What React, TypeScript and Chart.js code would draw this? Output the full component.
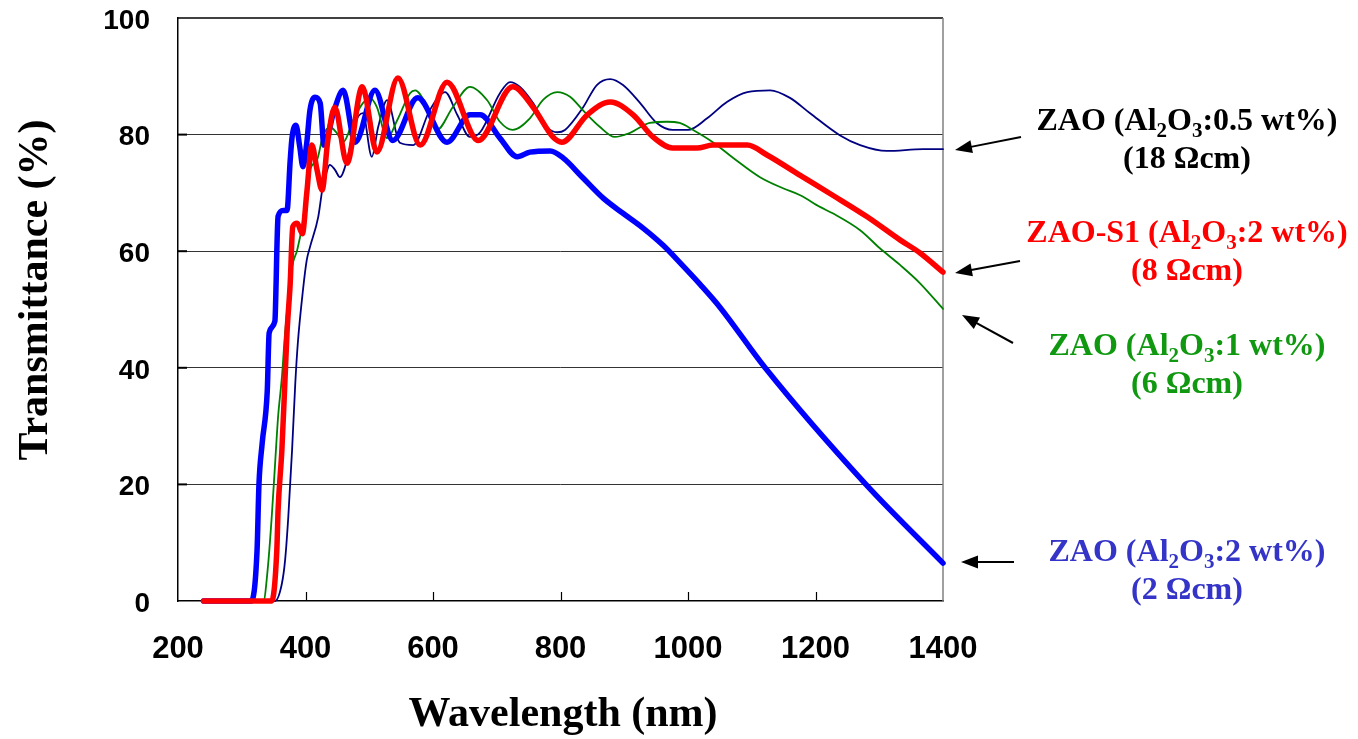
import React, { useEffect, useRef } from "react";
import { Chart, registerables } from "chart.js";
Chart.register(...registerables);

// ---- data (wavelength in nm, transmittance in %) ----
const navyNm = [240, 352, 363, 368, 373, 379, 384, 388, 396, 402, 407, 420, 427, 434, 438, 446, 454, 465, 478, 490, 504, 514, 528, 548, 569, 595, 619, 638, 658, 674, 705, 721, 736, 757, 779, 795, 807, 835, 857, 878, 898, 925, 951, 976, 1000, 1030, 1061, 1093, 1129, 1160, 1191, 1238, 1270, 1312, 1369, 1400];
const navyT = [0, 0, 3, 7, 14.4, 26, 37.4, 44.3, 53.3, 58.5, 60.7, 65.9, 71, 73.9, 74.8, 74, 72.7, 75.6, 82, 83.7, 76.2, 81.3, 85.9, 78.6, 78.2, 84.2, 87.3, 83.4, 79.6, 80.4, 87.1, 89, 88.2, 85.4, 81.3, 80.4, 80.8, 84.6, 88.5, 89.5, 88.5, 85.4, 82, 80.8, 80.8, 82.8, 85.6, 87.3, 87.6, 86.3, 83.7, 79.9, 78.2, 77.2, 77.5, 77.5];

const greenNm = [240, 334, 341, 347, 352, 357, 363, 368, 379, 387, 395, 407, 418, 427, 438, 449, 459, 475, 490, 501, 512, 528, 544, 564, 572, 591, 606, 631, 658, 685, 705, 725, 752, 773, 795, 815, 835, 862, 885, 909, 940, 967, 987, 1008, 1039, 1071, 1113, 1149, 1176, 1207, 1227, 1270, 1301, 1333, 1364, 1400];
const greenT = [0, 0, 5.8, 14.4, 23, 31.6, 38.4, 46, 57.3, 60.2, 64.5, 74, 75.6, 79.6, 81.3, 80.3, 78.7, 82.5, 85.4, 86.3, 84.7, 79.4, 82.5, 87.1, 87.6, 84.7, 80.8, 84.7, 88.2, 85.9, 82.2, 80.8, 82.8, 86, 87.3, 86.5, 84.2, 81.3, 79.6, 80.3, 82, 82.2, 82, 80.8, 78.7, 76, 72.7, 70.8, 69.6, 67.6, 66.5, 63.6, 60.5, 57.6, 54.5, 50.1];

const redNm = [240, 347, 355, 357, 363, 368, 371, 376, 380, 387, 395, 402, 410, 418, 426, 435, 446, 465, 489, 512, 545, 580, 622, 671, 725, 757, 788, 802, 842, 878, 914, 945, 976, 1014, 1039, 1093, 1124, 1176, 1227, 1281, 1333, 1364, 1400];
const redT = [0, 0, 8.7, 15.6, 26, 38.4, 46, 54.5, 64.2, 64.8, 63, 70, 78.2, 74, 70.5, 79, 84.7, 75.1, 88.2, 77, 89.7, 78.2, 89, 79, 88.2, 84.7, 79.6, 78.7, 83.4, 85.6, 83.4, 79.6, 77.7, 77.7, 78.2, 78.2, 76.5, 73, 69.6, 65.9, 61.9, 59.7, 56.4];

const blueNm = [240, 315, 324, 327, 332, 340, 343, 352, 354, 355, 357, 365, 371, 376, 379, 385, 391, 396, 402, 407, 415, 423, 429, 445, 459, 478, 509, 537, 576, 622, 658, 674, 705, 732, 752, 784, 804, 835, 867, 898, 929, 961, 991, 1019, 1050, 1121, 1279, 1400];
const blueT = [0, 0, 8.7, 20, 27, 36, 46, 48, 55, 60, 66, 67, 67, 75.6, 79.6, 81.6, 77.9, 74.5, 78.6, 84.2, 86.4, 85.4, 78.2, 84.2, 87.6, 78.7, 87.6, 79, 86.3, 78.7, 83.4, 83.4, 79.4, 76.2, 77, 77.2, 76, 72.6, 69.1, 66.5, 64, 61, 57.6, 54.3, 50.4, 40, 20, 6.5];

const xTicks = [200, 400, 600, 800, 1000, 1200, 1400];
const yTicks = [0, 20, 40, 60, 80, 100];

const xTitle = "Wavelength (nm)";
const yTitle = "Transmittance (%)";

// annotation text parts: [text, isSubscript]
type Part = [string, boolean];
const labelBlack1: Part[] = [["ZAO (Al", false], ["2", true], ["O", false], ["3", true], [":0.5 wt%)", false]];
const labelBlack2: Part[] = [["(18 \u03A9cm)", false]];
const labelRed1: Part[] = [["ZAO-S1 (Al", false], ["2", true], ["O", false], ["3", true], [":2 wt%)", false]];
const labelRed2: Part[] = [["(8 \u03A9cm)", false]];
const labelGreen1: Part[] = [["ZAO (Al", false], ["2", true], ["O", false], ["3", true], [":1 wt%)", false]];
const labelGreen2: Part[] = [["(6 \u03A9cm)", false]];
const labelBlue1: Part[] = [["ZAO (Al", false], ["2", true], ["O", false], ["3", true], [":2 wt%)", false]];
const labelBlue2: Part[] = [["(2 \u03A9cm)", false]];

const toXY = (xs: number[], ys: number[]) => xs.map((x, i) => ({ x, y: ys[i] }));

const SERIF = '"Liberation Serif", "Times New Roman", serif';

function drawRich(ctx: CanvasRenderingContext2D, parts: Part[], cx: number, baseline: number, color: string) {
  const main = `bold 32px ${SERIF}`;
  const sub = `bold 21px ${SERIF}`;
  let w = 0;
  for (const [t, s] of parts) {
    ctx.font = s ? sub : main;
    w += ctx.measureText(t).width;
  }
  let x = cx - w / 2;
  ctx.fillStyle = color;
  ctx.textAlign = "left";
  ctx.textBaseline = "alphabetic";
  for (const [t, s] of parts) {
    ctx.font = s ? sub : main;
    ctx.fillText(t, x, baseline + (s ? 7 : 0));
    x += ctx.measureText(t).width;
  }
}

function drawArrow(ctx: CanvasRenderingContext2D, x1: number, y1: number, x2: number, y2: number) {
  const ang = Math.atan2(y2 - y1, x2 - x1);
  const L = 17;
  const W = 6.5;
  const c = Math.cos(ang);
  const s = Math.sin(ang);
  ctx.strokeStyle = "#000";
  ctx.fillStyle = "#000";
  ctx.lineWidth = 2;
  ctx.beginPath();
  ctx.moveTo(x1, y1);
  ctx.lineTo(x2 - L * 0.8 * c, y2 - L * 0.8 * s);
  ctx.stroke();
  ctx.beginPath();
  ctx.moveTo(x2, y2);
  ctx.lineTo(x2 - L * c + W * s, y2 - L * s - W * c);
  ctx.lineTo(x2 - L * c - W * s, y2 - L * s + W * c);
  ctx.closePath();
  ctx.fill();
}

const overlay = {
  id: "overlay",
  beforeDatasetsDraw(chart: any) {
    const { ctx, chartArea: a, scales } = chart;
    ctx.save();
    ctx.lineWidth = 1.5;
    ctx.strokeStyle = "#000";
    ctx.beginPath();
    ctx.moveTo(a.left, a.top);
    ctx.lineTo(a.right, a.top);
    ctx.stroke();
    ctx.strokeStyle = "#808080";
    ctx.beginPath();
    ctx.moveTo(a.right, a.top);
    ctx.lineTo(a.right, a.bottom);
    ctx.stroke();
    ctx.strokeStyle = "#000";
    ctx.lineWidth = 1.2;
    for (const v of xTicks.slice(1, -1)) {
      const px = Math.round(scales.x.getPixelForValue(v)) + 0.5;
      ctx.beginPath();
      ctx.moveTo(px, a.bottom);
      ctx.lineTo(px, a.bottom - 9);
      ctx.stroke();
    }
    ctx.lineWidth = 2;
    for (const v of yTicks.slice(1, -1)) {
      const py = scales.y.getPixelForValue(v);
      ctx.beginPath();
      ctx.moveTo(a.left, py);
      ctx.lineTo(a.left + 9, py);
      ctx.stroke();
    }
    ctx.restore();
  },
  afterDraw(chart: any) {
    const { ctx } = chart;
    ctx.save();
    ctx.fillStyle = "#000";
    ctx.font = `bold 42px ${SERIF}`;
    ctx.textAlign = "center";
    ctx.textBaseline = "middle";
    ctx.fillText(xTitle, 563, 715);
    ctx.save();
    ctx.translate(36, 290);
    ctx.rotate(-Math.PI / 2);
    ctx.fillText(yTitle, 0, 0);
    ctx.restore();

    const cx = 1187;
    drawRich(ctx, labelBlack1, cx, 130, "#000000");
    drawRich(ctx, labelBlack2, cx, 168, "#000000");
    drawRich(ctx, labelRed1, cx, 242, "#ff0000");
    drawRich(ctx, labelRed2, cx, 280, "#ff0000");
    drawRich(ctx, labelGreen1, cx, 355, "#109910");
    drawRich(ctx, labelGreen2, cx, 393, "#109910");
    drawRich(ctx, labelBlue1, cx, 561, "#3434c8");
    drawRich(ctx, labelBlue2, cx, 599, "#3434c8");

    drawArrow(ctx, 1021, 137, 955, 150);
    drawArrow(ctx, 1020, 261, 955, 273);
    drawArrow(ctx, 1013, 343, 962, 315);
    drawArrow(ctx, 1014, 562, 961, 562);
    ctx.restore();
  },
};

export default function App() {
  const ref = useRef<HTMLCanvasElement>(null);
  useEffect(() => {
    document.body.style.margin = "0";
    const canvas = ref.current!;
    const common = { pointRadius: 0, fill: false, cubicInterpolationMode: "monotone" as const, borderJoinStyle: "round" as const, borderCapStyle: "round" as const, clip: 8 };
    const chart = new Chart(canvas, {
      type: "line",
      data: {
        datasets: [
          { ...common, label: "ZAO-S1 2 wt%", data: toXY(redNm, redT), borderColor: "#ff0000", borderWidth: 5.5, order: 1 },
          { ...common, label: "ZAO 2 wt%", data: toXY(blueNm, blueT), borderColor: "#0000ff", borderWidth: 5.5, order: 2 },
          { ...common, label: "ZAO 1 wt%", data: toXY(greenNm, greenT), borderColor: "#008000", borderWidth: 1.8, order: 3 },
          { ...common, label: "ZAO 0.5 wt%", data: toXY(navyNm, navyT), borderColor: "#000080", borderWidth: 1.8, order: 4 },
        ],
      },
      options: {
        animation: false,
        responsive: false,
        devicePixelRatio: 1,
        layout: { padding: { left: 0, top: 18, right: 415, bottom: 0 } },
        plugins: { legend: { display: false }, tooltip: { enabled: false } },
        scales: {
          x: {
            type: "linear",
            min: 200,
            max: 1400,
            afterFit: (s: any) => { s.height = 138; s.paddingLeft = 0; s.paddingRight = 0; s.paddingTop = 0; s.paddingBottom = 0; },
            afterBuildTicks: (s: any) => { s.ticks = xTicks.map((v) => ({ value: v })); },
            grid: { display: false, drawTicks: false },
            border: { display: true, color: "#000", width: 1.5 },
            ticks: {
              autoSkip: false,
              maxRotation: 0,
              padding: 30,
              color: "#000",
              callback: (v: any) => String(v),
              font: { family: '"Liberation Sans", Arial, sans-serif', size: 31, weight: "bold" },
            },
          },
          y: {
            min: 0,
            max: 100,
            afterFit: (s: any) => { s.width = 178; s.paddingTop = 0; s.paddingBottom = 0; s.paddingLeft = 0; s.paddingRight = 0; },
            afterBuildTicks: (s: any) => { s.ticks = yTicks.map((v) => ({ value: v })); },
            grid: {
              drawTicks: false,
              color: (c: any) => (c.tick && (c.tick.value === 0 || c.tick.value === 100) ? "rgba(0,0,0,0)" : "#333333"),
              lineWidth: 1,
            },
            border: { display: true, color: "#000", width: 1.5 },
            ticks: {
              padding: 28,
              labelOffset: 3,
              color: "#000",
              callback: (v: any) => String(v),
              font: { family: '"Liberation Sans", Arial, sans-serif', size: 28, weight: "bold" },
            },
          },
        },
      },
      plugins: [overlay],
    });
    return () => chart.destroy();
  }, []);
  return <canvas ref={ref} width={1358} height={739} style={{ display: "block", width: 1358, height: 739 }} />;
}
